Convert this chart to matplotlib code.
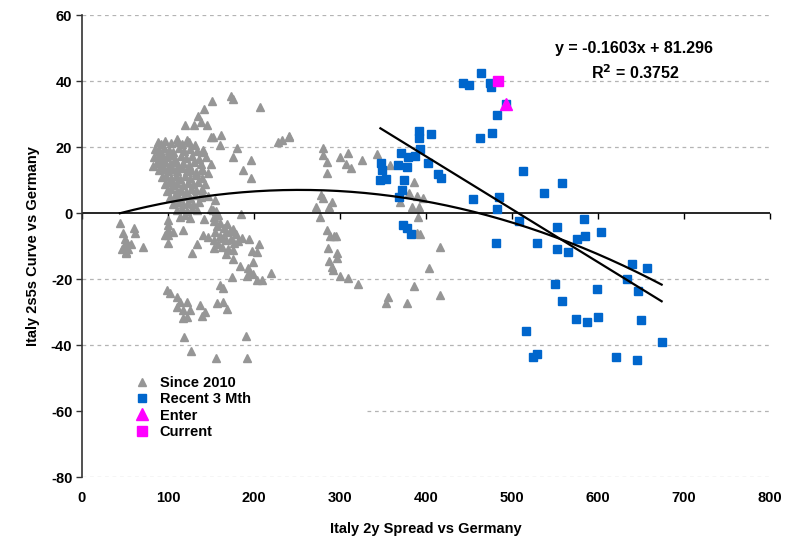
import numpy as np
import matplotlib
matplotlib.use("Agg")
import matplotlib.pyplot as plt
from matplotlib.patches import Rectangle

plt.rcParams['font.family'] = ['Liberation Sans', 'DejaVu Sans']
plt.rcParams['font.weight'] = 'bold'

# ---- data: Since 2010 (grey triangles), split by region of the cloud ----
gray_core = [
    (88, 21.4), (92, 20.8), (97, 21.9), (103, 21.2), (110, 22.3), (116, 20.9), (124, 21.6), (131, 20.7),
    (85, 19.3), (90, 18.8), (95, 19.6), (101, 19.1), (106, 18.5), (113, 19.8), (119, 18.9), (126, 19.4), (134, 18.7), (141, 19.2),
    (84, 17.1), (89, 16.6), (94, 17.4), (99, 16.9), (104, 17.5), (108, 16.3), (115, 17.2), (121, 16.7), (128, 17.3), (136, 16.5), (144, 17.0),
    (87, 15.2), (92, 14.6), (97, 15.4), (102, 14.9), (107, 15.6), (112, 14.4), (118, 15.1), (124, 14.7), (130, 15.5), (138, 14.8),
    (90, 12.9), (95, 13.4), (100, 12.6), (105, 13.2), (110, 12.8), (116, 13.5), (122, 12.7), (127, 13.1), (133, 12.5), (140, 13.3), (147, 12.2),
    (93, 10.8), (98, 11.3), (103, 10.6), (109, 11.1), (114, 10.4), (120, 11.2), (126, 10.7), (132, 11.4), (139, 10.5),
    (96, 8.9), (101, 9.3), (106, 8.6), (111, 9.1), (117, 8.4), (123, 9.2), (129, 8.8), (135, 9.4), (143, 8.7),
    (99, 6.8), (104, 7.3), (110, 6.6), (115, 7.1), (121, 6.5), (127, 7.2), (133, 6.9), (140, 7.4),
    (102, 4.9), (108, 5.3), (113, 4.6), (119, 5.1), (125, 4.7), (131, 5.4), (138, 4.8), (146, 5.2),
    (106, 2.8), (112, 3.3), (118, 2.6), (123, 3.1), (129, 2.7), (136, 3.4),
    (110, 0.9), (116, 1.3), (122, 0.6), (128, 1.1), (134, 0.8), (150, 1.2), (156, 0.7),
    (114, -1.1), (120, -0.7), (126, -1.4), (153, -1.2), (158, -0.6),
]
gray_upper = [
    (173, 35.5), (176, 34.5), (151, 34.0), (207, 32.0), (142, 31.5), (135, 29.4), (138, 27.6),
    (120, 26.7), (130, 26.7), (145, 26.7), (150, 23.0), (152, 23.0), (162, 23.6), (112, 21.5),
    (122, 22.1), (180, 19.7), (176, 17.0), (197, 16.0), (187, 13.0), (197, 10.6), (91, 18.2),
    (83, 14.2), (228, 21.5), (241, 23.0), (160, 20.6), (140, 18.5), (150, 14.8), (140, 13.0),
    (155, 3.9), (152, 0.9), (140, 6.0), (185, -0.3), (142, -1.8),
]
gray_low = [
    (44, -3.0), (60, -4.5), (62, -6.0), (48, -6.0), (50, -8.0), (52, -9.0), (49, -10.0),
    (53, -11.0), (51, -12.0), (57, -9.4), (71, -10.3), (47, -11.0), (51, -11.8),
    (100, -2.0), (100, -3.6), (100, -5.0), (100, -6.7), (96, -6.7), (106, -5.8), (100, -9.0),
    (118, -5.2), (128, -12.0), (134, -9.4), (141, -6.7), (146, -7.3),
    (153, -2.5), (157, -3.8), (161, -2.9), (165, -4.6), (169, -3.4), (172, -5.5), (176, -4.8),
    (179, -6.3), (155, -5.8), (160, -6.9), (164, -7.5), (168, -8.2), (173, -7.8), (177, -9.1),
    (181, -8.6), (158, -9.5), (163, -10.2), (170, -10.8), (175, -11.2), (186, -7.6), (154, -8.1),
    (167, -5.9), (153, -10.6),
    (167, -12.4), (176, -14.0), (184, -16.0), (194, -7.9), (206, -9.4), (198, -11.5), (203, -11.8),
    (199, -14.8), (193, -16.7), (195, -18.2), (192, -19.0), (199, -18.5), (203, -20.3), (209, -20.3),
    (220, -18.2), (174, -19.4), (160, -21.8), (164, -22.7),
    (99, -23.3), (102, -24.2), (110, -25.5), (114, -27.0), (122, -27.0), (110, -28.5), (117, -29.4),
    (126, -29.4), (122, -31.5), (117, -31.8), (137, -27.9), (143, -30.0), (140, -31.2), (157, -27.3),
    (164, -27.0), (169, -29.0), (119, -37.6), (191, -37.3), (127, -41.8), (156, -44.0), (192, -44.0),
]
gray_right = [
    (280, 19.7), (280, 17.6), (285, 15.5), (300, 17.0), (309, 18.2), (307, 14.8), (313, 13.6),
    (326, 16.0), (343, 17.9), (358, 14.5), (285, 12.1), (278, 5.5), (280, 4.5), (272, 1.8),
    (291, 3.3), (287, 1.8), (277, -1.2), (285, -5.2), (288, -7.0), (293, -7.0), (295, -7.0),
    (286, -10.6), (297, -12.1), (287, -14.5), (297, -13.6), (291, -16.4), (292, -17.3), (300, -19.0),
    (309, -19.7), (321, -21.5), (386, 9.4), (380, 6.0), (390, 5.2), (397, 4.5), (370, 3.3),
    (384, 1.8), (392, 1.8), (391, -1.2), (393, -6.4), (390, -6.0), (416, -10.3), (403, -16.7),
    (386, -22.0), (416, -24.8), (356, -25.5), (353, -27.3), (378, -27.3), (233, 22.0), (241, 23.3),
]

# ---- Recent 3 months (blue squares) ----
blue_x = [443, 450, 464, 474, 476, 493, 483, 477, 463, 406, 392, 392, 393, 371, 379, 387,
          348, 349, 367, 378, 402, 414, 417, 347, 354, 374, 372, 369, 373, 378, 383, 455,
          485, 483, 513, 558, 537, 508, 481, 529, 552, 584, 585, 576, 604, 552, 565, 640,
          657, 634, 647, 550, 599, 558, 574, 587, 600, 650, 516, 674, 524, 529, 621, 645]
blue_y = [39.4, 38.8, 42.4, 39.4, 38.2, 33.0, 29.7, 24.2, 22.7, 23.9, 24.8, 22.7, 19.4, 18.2, 17.0, 17.3,
          15.2, 13.0, 14.5, 13.9, 15.2, 11.8, 10.6, 10.0, 10.3, 10.0, 7.0, 4.8, -3.6, -4.5, -6.4, 4.2,
          4.8, 1.2, 12.7, 9.1, 6.1, -2.4, -9.1, -9.1, -4.2, -1.8, -7.0, -7.9, -5.8, -10.9, -11.8, -15.5,
          -16.7, -20.0, -23.6, -21.5, -23.0, -26.7, -32.1, -33.0, -31.5, -32.4, -35.8, -39.1, -43.6, -42.7, -43.6, -44.5]

enter_x, enter_y = [493], [33.0]
current_x, current_y = [484], [40.0]

# trend lines: linear on recent 3 months (as labelled), quadratic on since-2010 set
lin_coef = [-0.1603, 81.296]
lin_r2 = 0.3752
quad_coef = [-1.62e-4, 0.0820, -3.37]

# ---- figure ----
fig = plt.figure(figsize=(8.0, 5.37), dpi=100)
ax = fig.add_axes([0.1025, 0.1117, 0.86, 0.8603])

gray_all = np.array(gray_core + gray_upper + gray_low + gray_right)
gray_c = '#969696'
blue_c = '#0066CC'
mag_c = '#FF00FF'

ax.set_xlim(0, 800)
ax.set_ylim(-80, 60)

for yv in [60, 40, 20, -20, -40, -60, -80]:
    ax.axhline(yv, color='#b4b4b4', lw=0.9, ls=(0, (3, 3)), zorder=1)

# white legend background hides part of the -60 gridline
ax.add_patch(Rectangle((0, -70), 329, 22.5, facecolor='white', edgecolor='none', zorder=1.5))

ax.plot(gray_all[:, 0], gray_all[:, 1], ls='none', marker='^', ms=5.2, color=gray_c,
        mec=gray_c, label='Since 2010', zorder=2)
ax.plot(blue_x, blue_y, ls='none', marker='s', ms=6.4, color=blue_c, mec=blue_c,
        label='Recent 3 Mth', zorder=3)

all_x = np.concatenate([gray_all[:, 0], blue_x])
xq = np.linspace(all_x.min(), all_x.max(), 200)
ax.plot(xq, np.polyval(quad_coef, xq), color='black', lw=1.6, zorder=4)
xl = np.array([min(blue_x), max(blue_x)])
ax.plot(xl, np.polyval(lin_coef, xl), color='black', lw=1.6, zorder=4)

ax.plot(enter_x, enter_y, ls='none', marker='^', ms=9, color=mag_c, mec=mag_c,
        label='Enter', zorder=5)
ax.plot(current_x, current_y, ls='none', marker='s', ms=6.5, color=mag_c, mec=mag_c,
        label='Current', zorder=5)

ax.axhline(0, color='black', lw=1.2, zorder=2.5)

# spines / ticks
for s in ['top', 'right']:
    ax.spines[s].set_visible(False)
ax.spines['left'].set_color('#333333')
ax.spines['left'].set_linewidth(1.2)
ax.spines['bottom'].set_position(('data', 0))
ax.spines['bottom'].set_visible(False)
ax.set_yticks(np.arange(-80, 61, 20))
ax.set_yticklabels([str(v) for v in range(-80, 61, 20)], fontsize=10.5, fontweight='bold')
ax.tick_params(axis='y', length=4, width=1, color='#333333', pad=3)
ax.set_xticks(np.arange(0, 801, 100))
ax.xaxis.set_ticks_position('bottom')
ax.tick_params(axis='x', direction='out', length=4, width=1, color='black',
               labelbottom=False, labeltop=False)

sec = ax.secondary_xaxis(0)
sec.set_xticks(np.arange(0, 801, 100))
sec.set_xticklabels([str(v) for v in range(0, 801, 100)], fontsize=10.5, fontweight='bold')
sec.tick_params(length=0, pad=10)
sec.spines['bottom'].set_visible(False)
sec.set_xlabel('Italy 2y Spread vs Germany', fontsize=10.5, fontweight='bold', labelpad=12)

ax.set_ylabel('Italy 2s5s Curve vs Germany', fontsize=10.5, fontweight='bold', labelpad=8)

sign = '-' if lin_coef[0] < 0 else ''
ax.text(642, 50.0, f'y = {sign}{abs(lin_coef[0]):.4f}x + {lin_coef[1]:.3f}', ha='center', va='center',
        fontsize=11.5, fontweight='bold')
ax.text(643, 42.4, f'R$^2$ = {lin_r2:.4f}', ha='center', va='center', fontsize=11.5, fontweight='bold')

leg = ax.legend(loc='upper left', bbox_to_anchor=(0.06, 0.241), frameon=False, fontsize=10.5,
                handlelength=1.2, handletextpad=0.6, labelspacing=0.16, borderpad=0.2)
for t in leg.get_texts():
    t.set_fontweight('bold')

fig.savefig('out.png', dpi=100)
